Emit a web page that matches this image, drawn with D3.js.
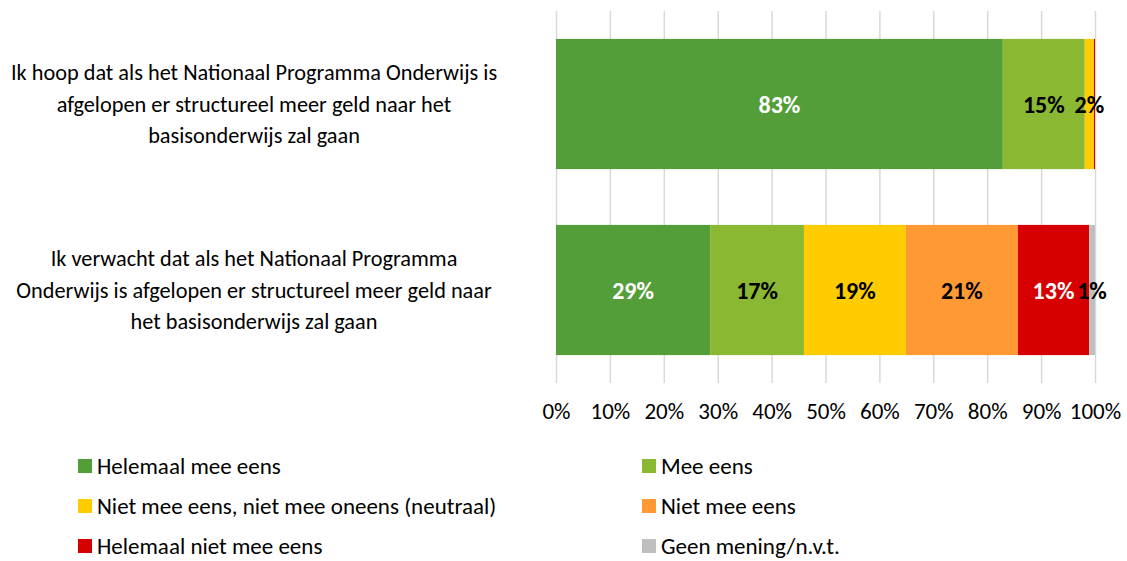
<!DOCTYPE html>
<html>
<head>
<meta charset="utf-8">
<script src="https://cdn.jsdelivr.net/npm/d3@7.9.0/dist/d3.min.js"></script>
<style>
  body { margin: 0; background: #fff; }
  svg { font-family: Carlito, Calibri, Lato, sans-serif; }
</style>
</head>
<body>
<div id="chart"></div>
<script>
// statements, top to bottom, each split over its wrapped lines
const statements = [
  ['Ik hoop dat als het Nationaal Programma Onderwijs is',
   'afgelopen er structureel meer geld naar het',
   'basisonderwijs zal gaan'],
  ['Ik verwacht dat als het Nationaal Programma',
   'Onderwijs is afgelopen er structureel meer geld naar',
   'het basisonderwijs zal gaan']
];

const answers = [
  'Helemaal mee eens',
  'Mee eens',
  'Niet mee eens, niet mee oneens (neutraal)',
  'Niet mee eens',
  'Helemaal niet mee eens',
  'Geen mening/n.v.t.'
];

const colors = ['#549E39', '#8AB833', '#FFCC00', '#FF9933', '#D60000', '#BFBFBF'];
const labelColors = ['#fff', '#000', '#000', '#000', '#fff', '#000'];

// percentages per statement, in the answer order above
const hoopValues = [82.9, 15.2, 1.7, 0.0, 0.2, 0.0];
const verwachtValues = [28.6, 17.4, 18.9, 20.8, 13.2, 1.1];

const xTicks = [0, 10, 20, 30, 40, 50, 60, 70, 80, 90, 100];

const width = 1127;
const height = 561;

const svg = d3.select('#chart')
  .append('svg')
  .attr('width', width)
  .attr('height', height);

const rows = [hoopValues, verwachtValues].map((vals, i) => {
  const row = { id: i };
  answers.forEach((a, j) => { row[a] = vals[j]; });
  return row;
});

const x = d3.scaleLinear().domain([0, 100]).range([556, 1095]);
const y = d3.scaleBand().domain([0, 1]).range([11, 383]).paddingInner(0.3).paddingOuter(0.15);

// gridlines
svg.append('g')
  .attr('class', 'gridlines')
  .attr('transform', 'translate(0, 383)')
  .call(d3.axisBottom(x).tickValues(xTicks).tickSize(-372).tickFormat(''))
  .call((g) => g.select('.domain').remove())
  .call((g) => g.selectAll('line').attr('stroke', '#D9D9D9').attr('stroke-width', 1.5));

// tick labels
svg.append('g')
  .attr('transform', 'translate(0, 383)')
  .call(d3.axisBottom(x).tickValues(xTicks).tickSize(0).tickPadding(20).tickFormat((d) => d + '%'))
  .call((g) => g.select('.domain').remove())
  .call((g) => g.selectAll('text')
    .attr('fill', '#000')
    .style('font-family', 'Carlito, Calibri, Lato, sans-serif')
    .style('font-size', '23px'));

const stacked = d3.stack().keys(answers)(rows);

const layers = svg.append('g')
  .selectAll('g')
  .data(stacked)
  .join('g')
  .attr('fill', (d, i) => colors[i]);

layers.selectAll('rect')
  .data((d) => d)
  .join('rect')
  .attr('x', (d) => x(d[0]))
  .attr('y', (d) => y(d.data.id))
  .attr('width', (d) => x(d[1]) - x(d[0]))
  .attr('height', y.bandwidth());

// data labels
stacked.forEach((layer, i) => {
  svg.append('g')
    .selectAll('text')
    .data(layer.filter((d) => d[1] - d[0] >= 0.5))
    .join('text')
    .attr('x', (d) => x((d[0] + d[1]) / 2))
    .attr('y', (d) => y(d.data.id) + y.bandwidth() / 2)
    .attr('text-anchor', 'middle')
    .attr('dominant-baseline', 'central')
    .attr('fill', labelColors[i])
    .style('font-weight', 'bold')
    .style('font-size', '24px')
    .text((d) => Math.round(d[1] - d[0]) + '%');
});

// category labels
statements.forEach((lines, i) => {
  const cy = y(i) + y.bandwidth() / 2;
  svg.append('text')
    .attr('text-anchor', 'middle')
    .style('font-size', '22.3px')
    .attr('fill', '#000')
    .selectAll('tspan')
    .data(lines)
    .join('tspan')
    .attr('x', 254)
    .attr('y', (d, k) => cy + (k - 1) * 31.5)
    .attr('dominant-baseline', 'central')
    .text((d) => d);
});

// legend
const legend = svg.append('g')
  .selectAll('g')
  .data(answers)
  .join('g')
  .attr('transform', (d, i) => `translate(${i % 2 === 0 ? 78 : 642}, ${466 + Math.floor(i / 2) * 40})`);

legend.append('rect')
  .attr('x', 0)
  .attr('y', -7)
  .attr('width', 14)
  .attr('height', 14)
  .attr('fill', (d, i) => colors[i]);

legend.append('text')
  .attr('x', 19)
  .attr('y', 0)
  .attr('dominant-baseline', 'central')
  .style('font-size', '23px')
  .attr('fill', '#000')
  .text((d) => d);
</script>
</body>
</html>
